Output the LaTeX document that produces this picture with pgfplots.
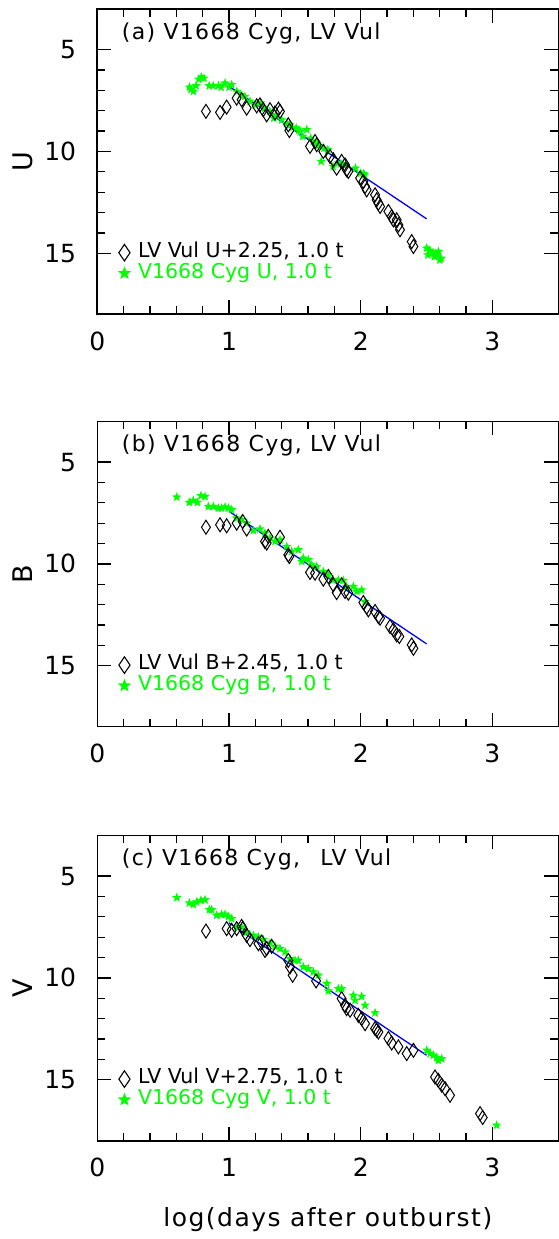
\documentclass[border=0pt]{standalone}
\usepackage{fontspec}
\setmainfont{DejaVu Sans}
\newfontfamily\widefont{DejaVu Sans}[LetterSpace=6]
\usepackage{pgfplots}
\pgfplotsset{compat=1.18}

\definecolor{vgreen}{RGB}{0,255,0}
\definecolor{fitblue}{RGB}{0,0,255}

% filled five-pointed star mark
\pgfdeclareplotmark{fstar}{%
  \pgfpathmoveto{\pgfpointpolar{90}{1\pgfplotmarksize}}%
  \pgfpathlineto{\pgfpointpolar{126}{0.42\pgfplotmarksize}}%
  \pgfpathlineto{\pgfpointpolar{162}{1\pgfplotmarksize}}%
  \pgfpathlineto{\pgfpointpolar{198}{0.42\pgfplotmarksize}}%
  \pgfpathlineto{\pgfpointpolar{234}{1\pgfplotmarksize}}%
  \pgfpathlineto{\pgfpointpolar{270}{0.42\pgfplotmarksize}}%
  \pgfpathlineto{\pgfpointpolar{306}{1\pgfplotmarksize}}%
  \pgfpathlineto{\pgfpointpolar{342}{0.42\pgfplotmarksize}}%
  \pgfpathlineto{\pgfpointpolar{18}{1\pgfplotmarksize}}%
  \pgfpathlineto{\pgfpointpolar{54}{0.42\pgfplotmarksize}}%
  \pgfpathclose
  \pgfusepathqfill}

\pgfplotsset{
  lcpanel/.style={
    scale only axis, width=461pt, height=305.3pt, anchor=south west,
    xmin=0, xmax=3.5, ymin=3, ymax=18, y dir=reverse,
    xtick={0,1,2,3}, ytick={5,10,15},
    minor x tick num=4, minor y tick num=4,
    tick align=inside, xtick pos=both, ytick pos=both,
    major tick length=14pt, minor tick length=8pt,
    tick style={line width=1.3pt, black},
    axis line style={line width=1.6pt},
    /pgf/number format/assume math mode=true,
    tick label style={font=\fontsize{25}{30}\selectfont},
    yticklabel style={anchor=east, inner sep=0pt, xshift=-21pt},
    xticklabel style={anchor=north, inner sep=0pt, yshift=-17.4pt},
    ylabel style={at={(axis description cs:-0.161,0.5)}, anchor=center,
      font=\fontsize{27}{30}\selectfont},
    legend cell align=left,
    legend style={draw=none, fill=none, inner sep=0pt, column sep=7pt,
      at={(axis description cs:0.044,0.168)}, anchor=west,
      font=\fontsize{20.5}{24}\selectfont,
      nodes={inner sep=0pt, text height=15pt, text depth=5.6pt}},
  },
  lvvul/.style={only marks, mark=diamond, mark size=7pt, black,
    line width=1.0pt, mark options={xscale=0.85}, forget plot},
  cyg/.style={only marks, mark=fstar, mark size=5pt, vgreen, forget plot},
  fitline/.style={fitblue, line width=1.3pt, no marks, forget plot},
  legdiamond/.style={legend image code/.code={%
    \draw[black, line width=1.1pt, mark=diamond, mark size=8.3pt,
      mark options={xscale=0.9}]
      plot coordinates {(0pt,0pt)};}},
  legstar/.style={legend image code/.code={%
    \fill[vgreen, mark=fstar, mark size=7pt]
      plot coordinates {(0pt,0pt)};}},
}

\newcommand{\paneltitle}[1]{%
  \node[anchor=base west, inner sep=0pt, font=\widefont\fontsize{22}{26}\selectfont]
    at (axis description cs:0.053,0.9) {#1};}

\begin{document}
\begin{tikzpicture}
\path[use as bounding box] (0pt,0pt) rectangle (559pt,1239pt);

% ---------------- (a) U band ----------------
\begin{axis}[lcpanel, at={(97.3pt,924.7pt)}, ylabel={U}]
\addplot[cyg] coordinates {
 (0.70,6.84) (0.71,6.95) (0.73,7.05) (0.75,6.77) (0.77,6.45) (0.79,6.35)
 (0.81,6.40) (0.85,6.77) (0.88,6.77) (0.92,6.77) (0.94,6.84) (0.97,6.64)
 (1.00,6.84) (1.02,6.72) (1.06,7.05) (1.09,7.21) (1.12,7.30) (1.16,7.54)
 (1.20,7.71) (1.24,7.62) (1.27,7.87) (1.31,8.03) (1.34,8.36) (1.36,8.20)
 (1.40,8.45) (1.44,8.61) (1.46,8.70) (1.48,8.82) (1.51,8.85) (1.53,8.95)
 (1.54,9.02) (1.56,9.26) (1.59,8.93) (1.62,9.35) (1.64,9.51) (1.67,9.59)
 (1.68,9.70) (1.70,10.49) (1.72,9.84) (1.75,9.92) (1.79,10.74) (1.83,10.57)
 (1.85,10.60) (1.87,10.66) (1.96,10.82) (2.00,11.07) (2.02,11.10) (2.03,11.15)
 (2.50,14.75) (2.51,15.08) (2.52,14.85) (2.53,14.92) (2.55,15.00) (2.56,15.17)
 (2.57,15.00) (2.58,15.08) (2.59,14.92) (2.60,15.33) (2.61,15.25)
};
\addplot[lvvul] coordinates {
 (0.825,8.03) (0.932,8.08) (0.982,7.82) (1.058,7.38) (1.096,7.46) (1.134,7.87)
 (1.210,7.76) (1.235,7.71) (1.260,7.95) (1.286,8.20) (1.311,7.95) (1.349,8.11)
 (1.375,7.92) (1.387,8.03) (1.450,8.69) (1.458,8.97) (1.615,9.75) (1.653,9.51)
 (1.666,9.67) (1.716,10.00) (1.767,10.25) (1.792,10.41) (1.817,10.82)
 (1.855,10.49) (1.881,10.66) (1.893,10.90) (1.906,10.98) (1.995,11.31)
 (2.020,11.48) (2.033,11.72) (2.045,11.89) (2.109,12.13) (2.121,12.38)
 (2.134,12.54) (2.147,12.70) (2.210,12.95) (2.235,13.20) (2.248,13.36)
 (2.273,13.36) (2.286,13.61) (2.298,13.85) (2.387,14.43) (2.400,14.67)
};
\addplot[fitline] coordinates {(1.0,6.80) (2.5,13.31)};
\addlegendimage{legdiamond}
\addlegendentry{LV Vul U+2.25, 1.0 t}
\addlegendimage{legstar}
\addlegendentry{\textcolor{vgreen}{V1668 Cyg U, 1.0 t}}
\paneltitle{(a) V1668 Cyg, LV Vul}
\end{axis}

% ---------------- (b) B band ----------------
\begin{axis}[lcpanel, at={(97.3pt,512.3pt)}, ylabel={B}]
\addplot[cyg] coordinates {
 (0.603,6.72) (0.699,6.98) (0.729,6.88) (0.760,6.98) (0.787,6.65) (0.818,6.69)
 (0.843,7.18) (0.881,7.18) (0.919,7.26) (0.944,7.26) (0.970,7.21) (0.995,7.26)
 (1.020,7.34) (1.058,7.75) (1.096,7.83) (1.134,8.00) (1.185,8.36) (1.235,8.29)
 (1.273,8.49) (1.311,8.74) (1.349,8.90) (1.387,8.82) (1.438,9.15) (1.476,9.39)
 (1.526,9.31) (1.552,9.88) (1.564,9.72) (1.602,9.80) (1.628,10.05) (1.666,10.13)
 (1.716,10.38) (1.754,10.54) (1.792,10.79) (1.830,10.79) (1.868,10.82)
 (1.893,11.11) (1.944,11.11) (1.969,11.36) (2.007,11.28) (2.033,11.85)
};
\addplot[lvvul] coordinates {
 (0.825,8.20) (0.932,8.08) (0.982,8.13) (1.058,8.00) (1.104,7.92) (1.134,8.29)
 (1.273,8.90) (1.286,8.98) (1.298,8.65) (1.387,8.69) (1.450,9.56) (1.458,9.64)
 (1.615,10.42) (1.653,10.46) (1.716,10.75) (1.754,10.62) (1.792,11.03)
 (1.817,11.41) (1.855,11.03) (1.881,11.36) (1.906,11.44) (2.020,11.90)
 (2.045,12.13) (2.058,12.26) (2.109,12.34) (2.134,12.59) (2.147,12.67)
 (2.222,13.08) (2.248,13.24) (2.273,13.49) (2.293,13.57) (2.387,13.98)
 (2.400,14.15)
};
\addplot[fitline] coordinates {(1.0,7.42) (2.5,13.93)};
\addlegendimage{legdiamond}
\addlegendentry{LV Vul B+2.45, 1.0 t}
\addlegendimage{legstar}
\addlegendentry{\textcolor{vgreen}{V1668 Cyg B, 1.0 t}}
\paneltitle{(b) V1668 Cyg, LV Vul}
\end{axis}

% ---------------- (c) V band ----------------
\begin{axis}[lcpanel, at={(97.3pt,98.3pt)}, ylabel={V},
  xlabel={log(days after outburst)},
  xlabel style={at={(axis description cs:0.5,-0.282)}, anchor=base,
    font=\widefont\fontsize{25}{30}\selectfont}]
\addplot[cyg] coordinates {
 (0.603,6.06) (0.699,6.32) (0.729,6.39) (0.754,6.27) (0.787,6.19) (0.818,6.16)
 (0.851,6.65) (0.868,6.65) (0.906,6.93) (0.944,6.88) (0.970,6.88) (0.995,6.98)
 (1.020,7.09) (1.058,7.50) (1.096,7.50) (1.134,7.75) (1.185,7.91) (1.223,7.99)
 (1.260,8.12) (1.311,8.29) (1.349,8.45) (1.387,8.56) (1.426,8.73) (1.463,9.06)
 (1.501,9.14) (1.526,9.14) (1.564,9.46) (1.602,9.55) (1.640,9.71) (1.678,9.87)
 (1.742,10.28) (1.754,10.64) (1.830,10.53) (1.855,10.53) (1.944,10.86)
 (2.007,10.91) (1.957,11.10) (2.033,11.35) (2.109,11.72)
 (2.501,13.56) (2.527,13.72) (2.551,13.80) (2.577,13.92) (2.589,14.05)
 (2.615,13.97) (3.032,17.24)
};
\addplot[lvvul] coordinates {
 (0.825,7.70) (0.982,7.58) (1.020,7.66) (1.058,7.58) (1.096,7.47) (1.104,7.58)
 (1.134,7.91) (1.159,8.12) (1.223,8.32) (1.248,8.24) (1.273,8.65) (1.286,8.56)
 (1.324,8.45) (1.450,9.14) (1.463,9.46) (1.483,9.87) (1.661,10.15)
 (1.855,11.02) (1.881,11.35) (1.893,11.51) (1.919,11.59) (1.982,11.84)
 (2.007,12.00) (2.033,12.25) (2.109,12.49) (2.121,12.57) (2.134,12.66)
 (2.210,12.98) (2.235,13.20) (2.286,13.39) (2.349,13.72) (2.400,13.56)
 (2.564,14.87) (2.589,15.03) (2.615,15.27) (2.640,15.44) (2.678,15.77)
 (2.906,16.67) (2.926,16.86)
};
\addplot[fitline] coordinates {(1.0,7.30) (2.5,13.80)};
\addlegendimage{legdiamond}
\addlegendentry{LV Vul V+2.75, 1.0 t}
\addlegendimage{legstar}
\addlegendentry{\textcolor{vgreen}{V1668 Cyg V, 1.0 t}}
\paneltitle{(c) V1668 Cyg,\hspace{12pt} LV Vul}
\end{axis}
\end{tikzpicture}
\end{document}
